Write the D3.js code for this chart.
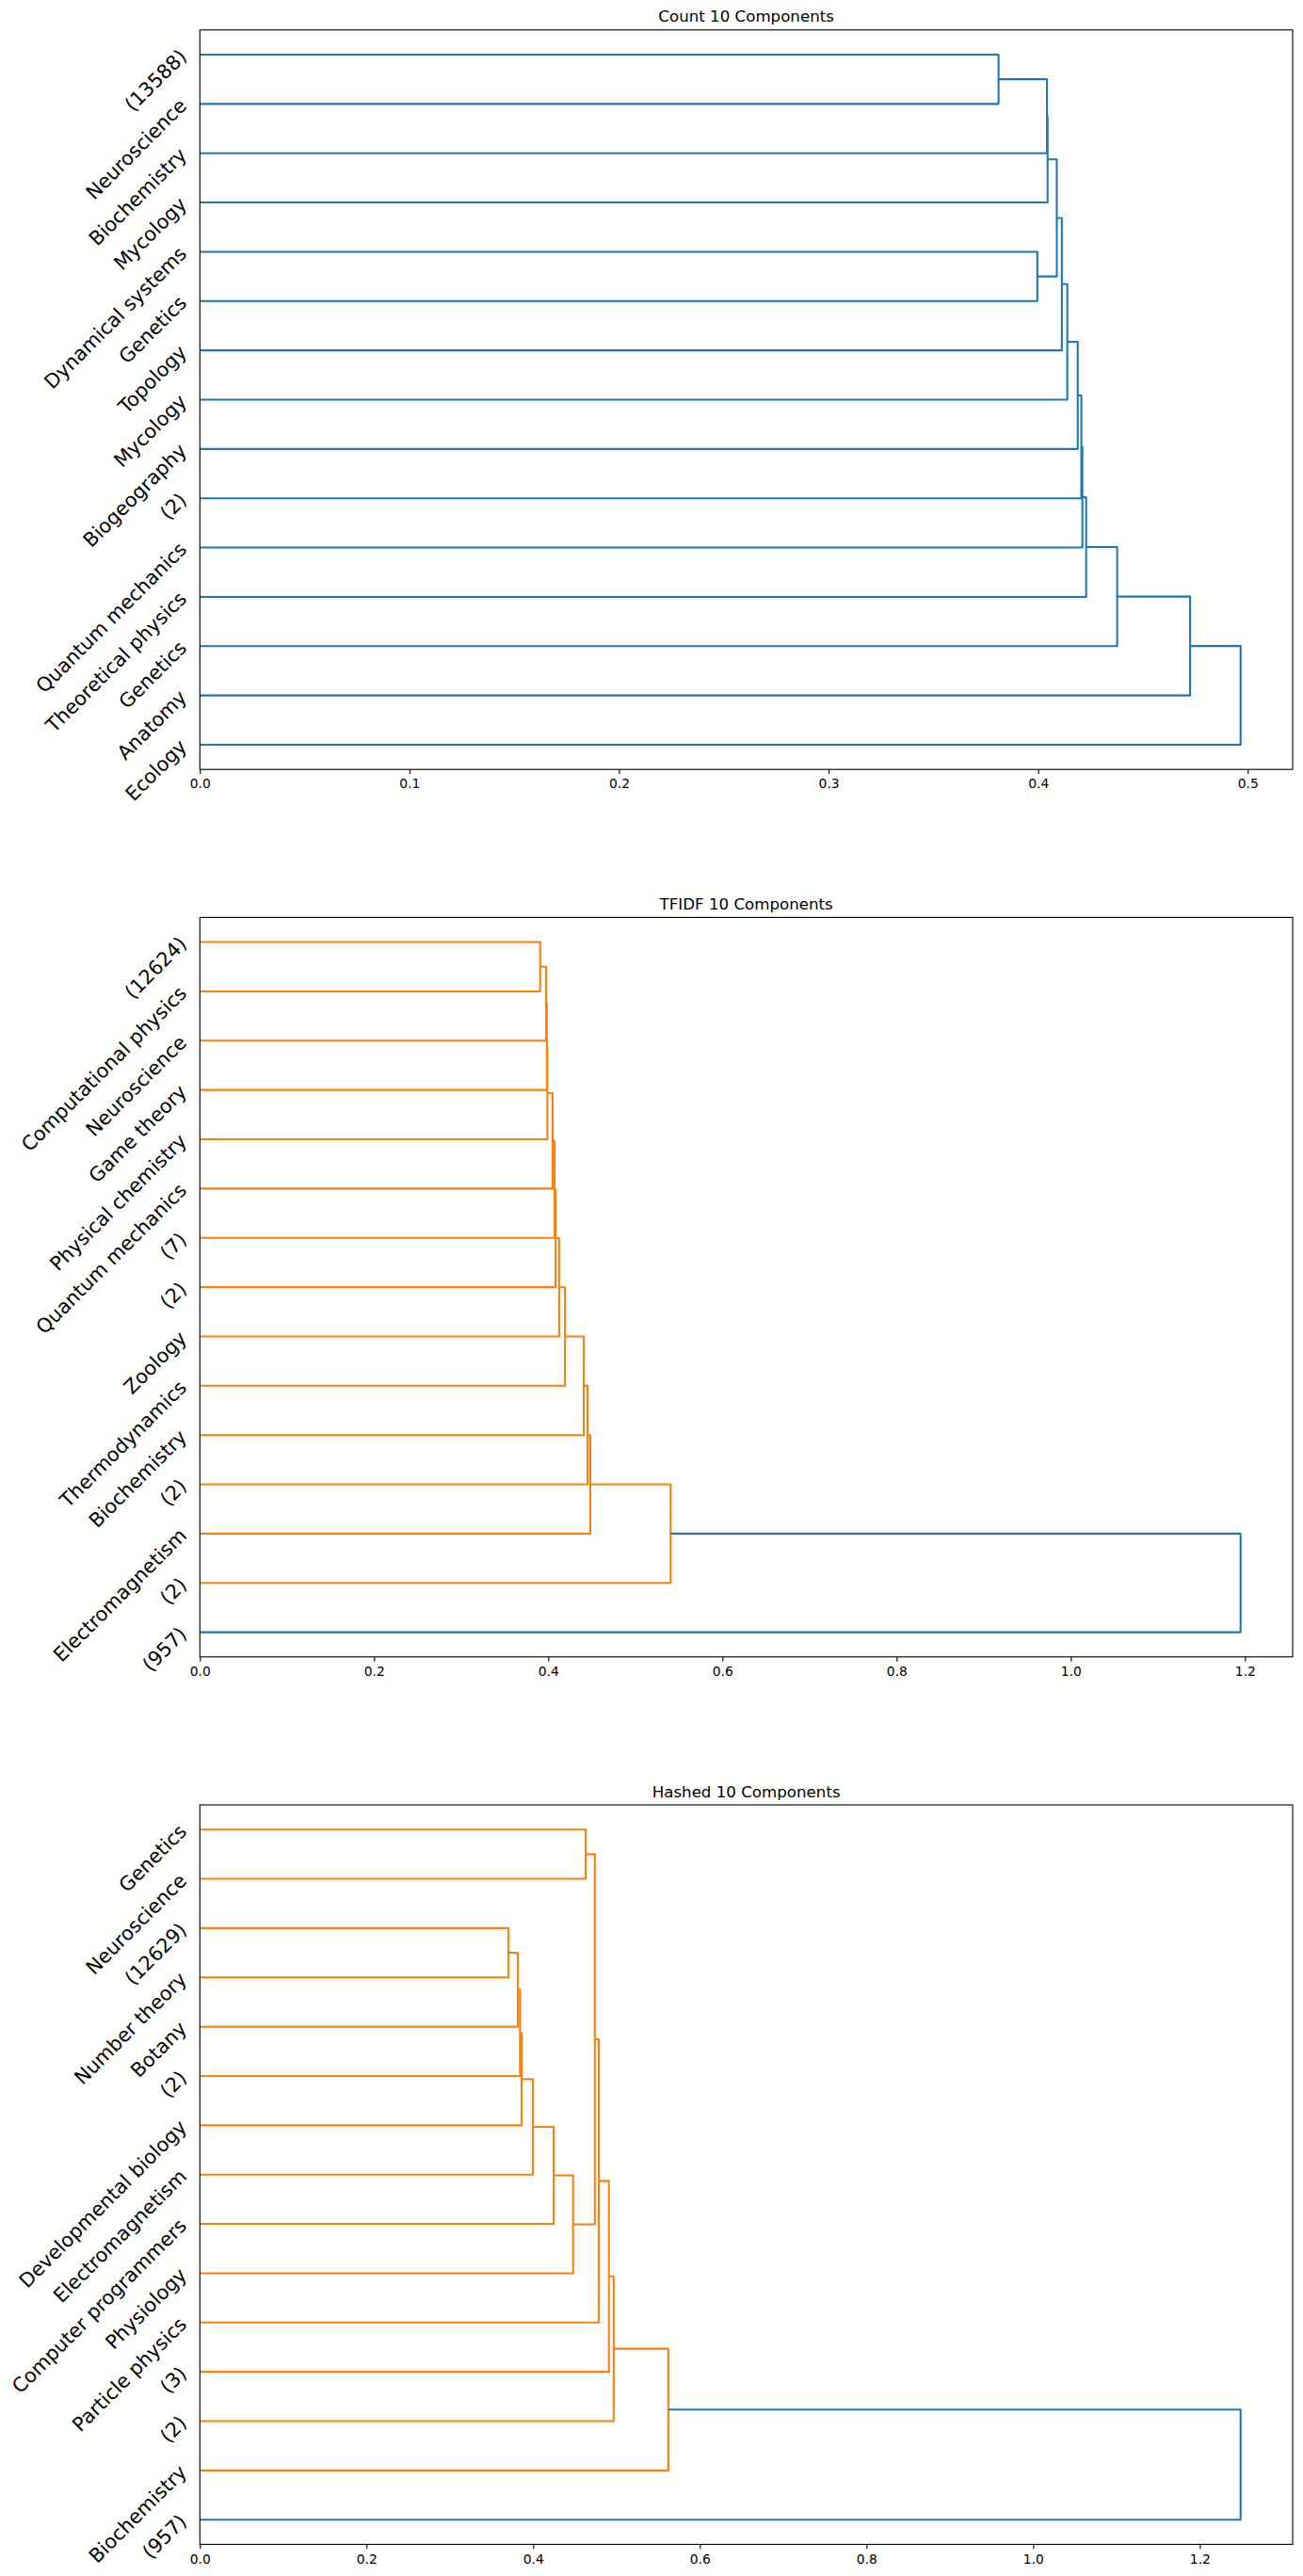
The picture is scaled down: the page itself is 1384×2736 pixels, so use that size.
<!DOCTYPE html>
<html><head><meta charset="utf-8">
<script src="https://cdn.jsdelivr.net/npm/d3@7"></script>
<style>body{margin:0;background:#fff}svg{display:block}</style>
</head><body>
<script>
// ---------- data ----------
const countTitle = "Count 10 Components";
const countLabels = ["(13588)","Neuroscience","Biochemistry","Mycology","Dynamical systems","Genetics","Topology","Mycology","Biogeography","(2)","Quantum mechanics","Theoretical physics","Genetics","Anatomy","Ecology"];
// [childA, childB, distance]; ids 0..14 are leaves (top to bottom), 15.. are merges in list order
const countMerges = [[0,1,0.3811],[15,2,0.4042],[16,3,0.4045],[4,5,0.3996],[17,18,0.4089],[19,6,0.4113],[20,7,0.4139],[21,8,0.4189],[22,9,0.4206],[23,10,0.4211],[24,11,0.4229],[25,12,0.4377],[26,13,0.4725],[27,14,0.4966]];
const countTicks = [0,0.1,0.2,0.3,0.4,0.5];

const tfidfTitle = "TFIDF 10 Components";
const tfidfLabels = ["(12624)","Computational physics","Neuroscience","Game theory","Physical chemistry","Quantum mechanics","(7)","(2)","Zoology","Thermodynamics","Biochemistry","(2)","Electromagnetism","(2)","(957)"];
const tfidfMerges = [[0,1,0.3907],[15,2,0.3975],[16,3,0.3984],[17,4,0.3990],[18,5,0.4051],[19,6,0.4073],[20,7,0.4084],[21,8,0.4125],[22,9,0.4192],[23,10,0.4408],[24,11,0.4451],[25,12,0.4483],[26,13,0.5405],[27,14,1.195]];
const tfidfTicks = [0,0.2,0.4,0.6,0.8,1.0,1.2];

const hashedTitle = "Hashed 10 Components";
const hashedLabels = ["Genetics","Neuroscience","(12629)","Number theory","Botany","(2)","Developmental biology","Electromagnetism","Computer programmers","Physiology","Particle physics","(3)","(2)","Biochemistry","(957)"];
const hashedMerges = [[0,1,0.4630],[2,3,0.3703],[16,4,0.3816],[17,5,0.3842],[18,6,0.3861],[19,7,0.3996],[20,8,0.4246],[21,9,0.4479],[15,22,0.4740],[23,10,0.4787],[24,11,0.4909],[25,12,0.4966],[26,13,0.5622],[27,14,1.249]];
const hashedTicks = [0,0.2,0.4,0.6,0.8,1.0,1.2];

const colorCycle = ["#1f77b4","#ff7f0e","#2ca02c","#d62728","#9467bd","#8c564b"];

// ---------- layout ----------
const W = 1384, H = 2736;
const PT = 100/72;
const axLeft = 212.3, axRight = 1373, axH = 785.4;
const axTops = [31.8, 974.4, 1917.0];
const FONT = "DejaVu Sans";

const svg = d3.select("body").append("svg").attr("width", W).attr("height", H);
svg.append("rect").attr("width", W).attr("height", H).attr("fill", "#fff");

function drawDendro(top, title, labels, merges, ticks) {
  const n = labels.length;
  const width = axRight - axLeft;
  const maxH = d3.max(merges, m => m[2]);
  const x = d3.scaleLinear().domain([0, maxH * 1.05]).range([0, width]);
  const y = d3.scaleLinear().domain([0, n * 10]).range([0, axH]);
  const g = svg.append("g").attr("transform", `translate(${axLeft},${top})`);

  // node positions and heights
  const pos = labels.map((_, k) => 10 * k + 5);
  const hgt = labels.map(() => 0);
  const kids = labels.map(() => null);
  merges.forEach(([a, b, d]) => {
    pos.push((pos[a] + pos[b]) / 2);
    hgt.push(d);
    kids.push([a, b]);
  });

  // colour rule (scipy): clusters below 0.7*max get cycle colours, rest C0
  const thr = 0.7 * maxH;
  const col = hgt.map(() => colorCycle[0]);
  let ci = 1;
  function paint(id, c) {
    if (!kids[id]) return;
    col[id] = c;
    kids[id].forEach(k => paint(k, c));
  }
  function walk(id) {
    if (!kids[id]) return;
    if (hgt[id] < thr) { paint(id, colorCycle[ci]); ci = ci % (colorCycle.length - 1) + 1; return; }
    kids[id].forEach(walk);
  }
  walk(pos.length - 1);

  const line = d3.line().x(p => x(p[0])).y(p => y(p[1]));
  merges.forEach(([a, b, d], i) => {
    const id = n + i;
    g.append("path")
      .attr("d", line([[hgt[a], pos[a]], [d, pos[a]], [d, pos[b]], [hgt[b], pos[b]]]))
      .attr("fill", "none")
      .attr("stroke", col[id])
      .attr("stroke-width", 1.5 * PT)
      .attr("stroke-linejoin", "round")
      .attr("stroke-linecap", "butt");
  });

  // spines
  g.append("rect").attr("x", 0).attr("y", 0).attr("width", width).attr("height", axH)
    .attr("fill", "none").attr("stroke", "#000").attr("stroke-width", 0.8 * PT);

  // x axis
  const xa = g.append("g").attr("transform", `translate(0,${axH})`)
    .call(d3.axisBottom(x).tickValues(ticks).tickFormat(d3.format(".1f"))
      .tickSize(3.5 * PT).tickPadding(3.5 * PT).tickSizeOuter(0));
  xa.select(".domain").remove();
  xa.selectAll(".tick line").attr("stroke", "#000").attr("stroke-width", 0.8 * PT);
  xa.selectAll(".tick text").attr("font-family", FONT).attr("font-size", 10 * PT)
    .attr("fill", "#000").attr("dy", "0.76em");

  // title
  g.append("text").attr("x", width / 2).attr("y", -6 * PT)
    .attr("text-anchor", "middle").attr("font-family", FONT).attr("font-size", 12 * PT)
    .attr("fill", "#000").text(title);

  // leaf labels (rotated 45°, matplotlib ha=right, va=center_baseline)
  const fs = 15 * PT;
  const th = 0.968 * fs, td = 0.208 * fs, c = Math.SQRT1_2;
  labels.forEach((lab, k) => {
    const t = g.append("text").attr("font-family", FONT).attr("font-size", fs)
      .attr("fill", "#000").text(lab);
    const w = t.node().getComputedTextLength();
    const ax = -7 * PT;
    const ay = y(pos[k]);
    const offY = (w + th) * c - (th - td) / 2;
    const ox = ax - w * c, oy = ay + offY;
    const bx = ox - td * c, by = oy - td * c;
    t.attr("transform", `translate(${bx},${by}) rotate(-45)`);
  });
}

drawDendro(axTops[0], countTitle, countLabels, countMerges, countTicks);
drawDendro(axTops[1], tfidfTitle, tfidfLabels, tfidfMerges, tfidfTicks);
drawDendro(axTops[2], hashedTitle, hashedLabels, hashedMerges, hashedTicks);
</script>
</body></html>
